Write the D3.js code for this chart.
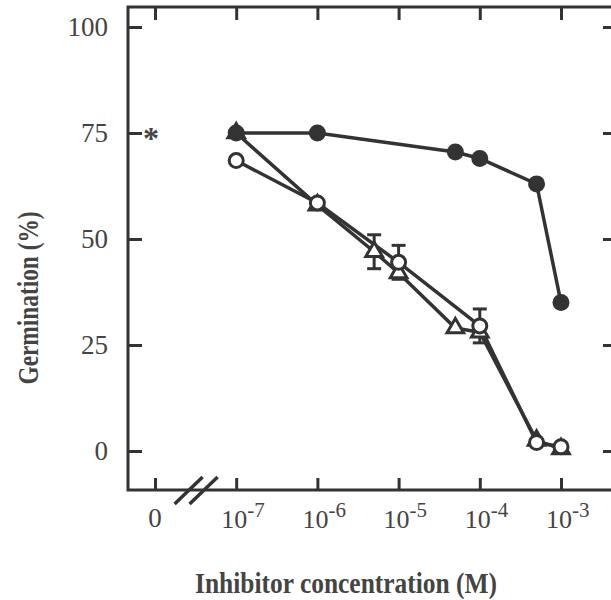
<!DOCTYPE html>
<html>
<head>
<meta charset="utf-8">
<script src="https://cdn.jsdelivr.net/npm/d3@7"></script>
<style>
  body { margin: 0; background: #fff; }
  svg { display: block; }
</style>
</head>
<body>
<div id="chart"></div>
<script>
// data
const yTicks = [0, 25, 50, 75, 100]
const xTicks = [1e-7, 1e-6, 1e-5, 1e-4, 1e-3]
const xTickExp = ["-7", "-6", "-5", "-4", "-3"]
const zeroPos = 1e-8   // where the "0" control sits on the log axis

const filledConc = [1e-7, 1e-6, 5e-5, 1e-4, 5e-4, 1e-3]
const filledGerm = [75, 75, 70.5, 69, 63, 35]

const triConc = [1e-7, 1e-6, 5e-6, 1e-5, 5e-5, 1e-4, 5e-4, 1e-3]
const triGerm = [75, 58, 47, 42, 29, 28, 2.5, 0.5]
const triErr  = [0, 0, 4, 0, 0, 0, 0, 0]

const openConc = [1e-7, 1e-6, 1e-5, 1e-4, 5e-4, 1e-3]
const openGerm = [68.5, 58.5, 44.5, 29.5, 2, 1]
const openErr  = [0, 0, 4, 4, 0, 0]

const ink = "#333"
const textCol = "#444"

var margin = {top: 7, left: 128},
  width = 489,
  height = 483

var svg = d3.select("#chart")
  .append("svg")
    .attr("width", 611)
    .attr("height", 600)

var g = svg.append("g")
    .attr("transform", "translate(" + margin.left + "," + margin.top + ")")

// scales
var x = d3.scaleLog()
  .domain([zeroPos, 1e-3])
  .range([27, 433])

var y = d3.scaleLinear()
  .domain([-9.2, 104.72])
  .range([height, 0])

// frame
g.append("rect")
  .attr("width", width)
  .attr("height", height)
  .style("fill", "none")
  .style("stroke", ink)
  .style("stroke-width", 3)

var allX = [zeroPos].concat(xTicks)

// left axis with labels
g.append("g")
  .call(d3.axisLeft(y).tickValues(yTicks).tickSize(-14).tickPadding(20).tickSizeOuter(0))
  .call(a => a.select(".domain").remove())
  .call(a => a.selectAll("line").style("stroke", ink).style("stroke-width", 3))
  .call(a => a.selectAll("text")
    .style("font-family", "'Liberation Serif', serif")
    .style("font-size", "27px")
    .style("fill", textCol))

// right axis, ticks only
g.append("g")
  .attr("transform", "translate(" + width + ",0)")
  .call(d3.axisRight(y).tickValues(yTicks).tickSize(-14).tickFormat("").tickSizeOuter(0))
  .call(a => a.select(".domain").remove())
  .call(a => a.selectAll("line").style("stroke", ink).style("stroke-width", 3))

// bottom axis
g.append("g")
  .attr("transform", "translate(0," + height + ")")
  .call(d3.axisBottom(x).tickValues(allX).tickSize(-12).tickFormat("").tickSizeOuter(0))
  .call(a => a.select(".domain").remove())
  .call(a => a.selectAll("line").style("stroke", ink).style("stroke-width", 3))

// top axis
g.append("g")
  .call(d3.axisTop(x).tickValues(allX).tickSize(-13).tickFormat("").tickSizeOuter(0))
  .call(a => a.select(".domain").remove())
  .call(a => a.selectAll("line").style("stroke", ink).style("stroke-width", 3))

// x tick labels: 0 and powers of ten
g.append("text")
  .attr("x", x(zeroPos))
  .attr("y", height + 37)
  .attr("text-anchor", "middle")
  .style("font-family", "'Liberation Serif', serif")
  .style("font-size", "27px")
  .style("fill", textCol)
  .text("0")

var xl = g.selectAll(".xlab")
  .data(xTicks)
  .enter().append("text")
    .attr("class", "xlab")
    .attr("x", d => x(d) - 15)
    .attr("y", height + 38)
    .style("font-family", "'Liberation Serif', serif")
    .style("font-size", "26px")
    .style("fill", textCol)
xl.append("tspan").text("10")
xl.append("tspan")
  .attr("dy", -11)
  .style("font-size", "21px")
  .text((d, i) => xTickExp[i])

// axis break marks
var brk = x(Math.sqrt(zeroPos * 1e-7))
;[-7, 8].forEach(function(off) {
  g.append("line")
    .attr("x1", brk + off - 14).attr("y1", height + 14)
    .attr("x2", brk + off + 14).attr("y2", height - 13)
    .style("stroke", ink)
    .style("stroke-width", 3.5)
})

// asterisk on the control
g.append("text")
  .attr("x", x(zeroPos) - 4)
  .attr("y", y(75) + 16)
  .attr("text-anchor", "middle")
  .style("font-family", "'Liberation Serif', serif")
  .style("font-weight", "bold")
  .style("font-size", "32px")
  .style("fill", textCol)
  .text("*")

// series
function pts(cx, cy, ce) {
  return cx.map((c, i) => ({c: c, v: cy[i], e: ce ? ce[i] : 0}))
}
var filled = pts(filledConc, filledGerm)
var tri = pts(triConc, triGerm, triErr)
var open = pts(openConc, openGerm, openErr)

var line = d3.line().x(d => x(d.c)).y(d => y(d.v))

;[tri, open, filled].forEach(function(s) {
  g.append("path")
    .datum(s)
    .attr("d", line)
    .style("fill", "none")
    .style("stroke", ink)
    .style("stroke-width", 3.5)
})

// error bars
function errBars(s) {
  var e = g.selectAll(null)
    .data(s.filter(d => d.e > 0))
    .enter().append("g")
    .style("stroke", ink)
    .style("stroke-width", 3)
  e.append("line")
    .attr("x1", d => x(d.c)).attr("x2", d => x(d.c))
    .attr("y1", d => y(d.v + d.e)).attr("y2", d => y(d.v - d.e))
  e.append("line")
    .attr("x1", d => x(d.c) - 7).attr("x2", d => x(d.c) + 7)
    .attr("y1", d => y(d.v + d.e)).attr("y2", d => y(d.v + d.e))
  e.append("line")
    .attr("x1", d => x(d.c) - 7).attr("x2", d => x(d.c) + 7)
    .attr("y1", d => y(d.v - d.e)).attr("y2", d => y(d.v - d.e))
}
errBars(tri)
errBars(open)

g.selectAll(".tri")
  .data(tri)
  .enter().append("path")
    .attr("class", "tri")
    .attr("d", d3.symbol().type(d3.symbolTriangle).size(120))
    .attr("transform", d => "translate(" + x(d.c) + "," + y(d.v) + ")")
    .style("fill", "#fff")
    .style("stroke", ink)
    .style("stroke-width", 3)

g.selectAll(".open")
  .data(open)
  .enter().append("circle")
    .attr("class", "open")
    .attr("cx", d => x(d.c))
    .attr("cy", d => y(d.v))
    .attr("r", 7)
    .style("fill", "#fff")
    .style("stroke", ink)
    .style("stroke-width", 3)

g.selectAll(".filled")
  .data(filled)
  .enter().append("circle")
    .attr("class", "filled")
    .attr("cx", d => x(d.c))
    .attr("cy", d => y(d.v))
    .attr("r", 8.5)
    .style("fill", ink)

// axis titles
svg.append("text")
  .attr("x", 346)
  .attr("y", 593)
  .attr("text-anchor", "middle")
  .attr("textLength", 302)
  .attr("lengthAdjust", "spacingAndGlyphs")
  .style("font-family", "'Liberation Serif', serif")
  .style("font-weight", "bold")
  .style("font-size", "30px")
  .style("fill", textCol)
  .text("Inhibitor concentration (M)")

svg.append("text")
  .attr("transform", "translate(38,298) rotate(-90)")
  .attr("text-anchor", "middle")
  .attr("textLength", 173)
  .attr("lengthAdjust", "spacingAndGlyphs")
  .style("font-family", "'Liberation Serif', serif")
  .style("font-weight", "bold")
  .style("font-size", "30px")
  .style("fill", textCol)
  .text("Germination (%)")
</script>
</body>
</html>
